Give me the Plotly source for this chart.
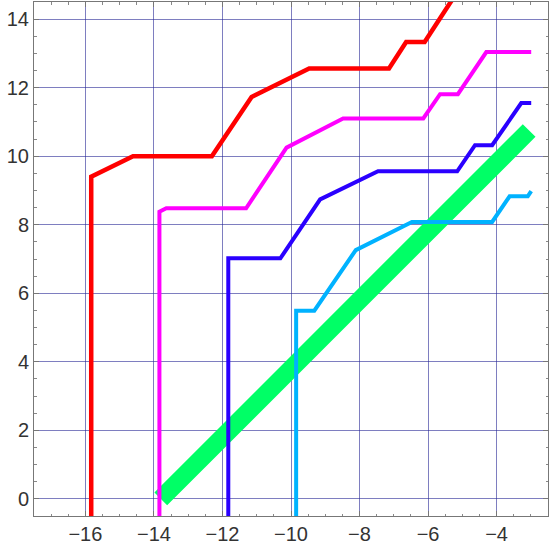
import plotly.graph_objects as go

# step curves
red_x = [-15.83, -15.83, -14.61, -12.31, -11.15, -9.47, -7.14, -6.64, -6.10, -5.10]
red_y = [-1.0, 9.40, 10.0, 10.0, 11.73, 12.56, 12.56, 13.33, 13.33, 14.87]

magenta_x = [-13.84, -13.84, -13.64, -11.31, -10.13, -8.48, -6.14, -5.65, -5.13, -4.30, -2.99]
magenta_y = [-1.0, 8.38, 8.48, 8.48, 10.25, 11.10, 11.10, 11.81, 11.81, 13.04, 13.04]

blue_x = [-11.83, -11.83, -10.31, -9.15, -7.46, -5.15, -4.63, -4.13, -3.28, -2.99]
blue_y = [-1.0, 7.02, 7.02, 8.74, 9.56, 9.56, 10.32, 10.32, 11.55, 11.55]

cyan_x = [-9.85, -9.85, -9.32, -8.11, -6.47, -4.13, -3.62, -3.09, -2.99]
cyan_y = [-1.0, 5.49, 5.49, 7.26, 8.08, 8.08, 8.83, 8.83, 8.98]

green_x = [-13.8, -12.0, -10.0, -8.0, -6.0, -4.0, -3.05]
green_y = [0.0, 1.85, 3.85, 5.8, 7.8, 9.8, 10.75]

fig = go.Figure()
fig.add_trace(go.Scatter(x=green_x, y=green_y, mode="lines",
                         line=dict(color="#00ff66", width=18)))
for xs, ys, col, w in [
    (red_x, red_y, "#ff0000", 4.5),
    (magenta_x, magenta_y, "#ff00ff", 4),
    (blue_x, blue_y, "#2a00ff", 4),
    (cyan_x, cyan_y, "#00b2ff", 4),
]:
    fig.add_trace(go.Scatter(x=xs, y=ys, mode="lines",
                             line=dict(color=col, width=w)))

axis_style = dict(
    showline=True, linecolor="#777777", linewidth=1, mirror="ticks",
    ticks="inside", ticklen=5, tickcolor="#777777",
    showgrid=True, gridcolor="rgba(40,40,150,0.6)", gridwidth=1,
    zeroline=False, dtick=2, tick0=0, automargin=False,
    minor=dict(dtick=0.5, ticks="inside", ticklen=2.5, tickcolor="#888888", showgrid=False),
    tickfont=dict(family="Liberation Sans, Arial, sans-serif", size=20, color="#333333"),
)
fig.update_xaxes(range=[-17.5, -2.5], **axis_style)
fig.update_yaxes(range=[-0.5, 14.5], **axis_style)

fig.update_layout(
    width=549, height=545,
    showlegend=False,
    plot_bgcolor="white", paper_bgcolor="white",
    margin=dict(l=34, r=1, t=2, b=29),
)
fig.write_html("out.html", config={"displayModeBar": False},
               post_script="document.body.style.margin='0';")
